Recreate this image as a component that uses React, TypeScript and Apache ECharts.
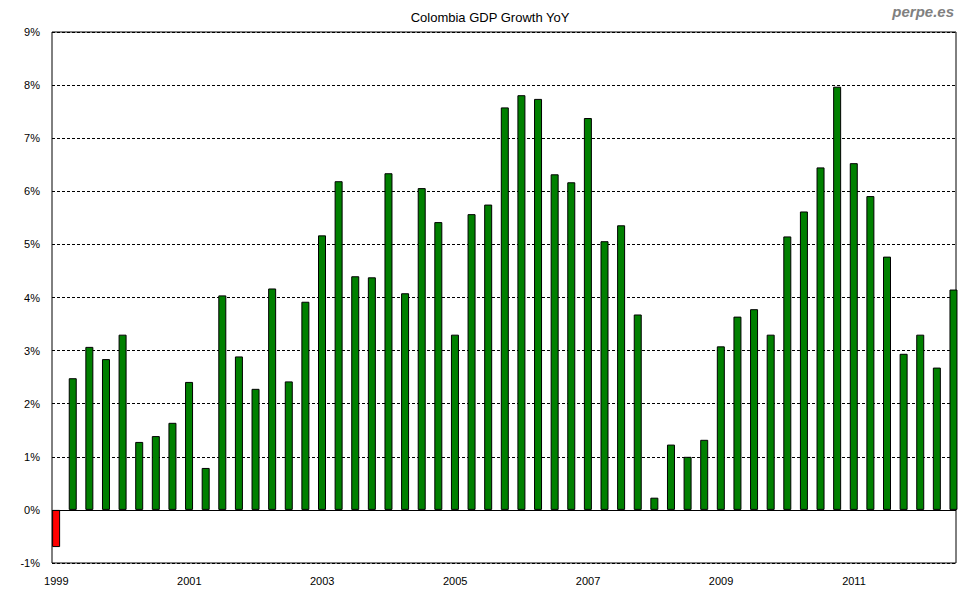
import React, { useEffect, useRef } from "react";
import * as echarts from "echarts";

const quarters = [
  "1998Q4",
  "1999Q1", "1999Q2", "1999Q3", "1999Q4",
  "2000Q1", "2000Q2", "2000Q3", "2000Q4",
  "2001Q1", "2001Q2", "2001Q3", "2001Q4",
  "2002Q1", "2002Q2", "2002Q3", "2002Q4",
  "2003Q1", "2003Q2", "2003Q3", "2003Q4",
  "2004Q1", "2004Q2", "2004Q3", "2004Q4",
  "2005Q1", "2005Q2", "2005Q3", "2005Q4",
  "2006Q1", "2006Q2", "2006Q3", "2006Q4",
  "2007Q1", "2007Q2", "2007Q3", "2007Q4",
  "2008Q1", "2008Q2", "2008Q3", "2008Q4",
  "2009Q1", "2009Q2", "2009Q3", "2009Q4",
  "2010Q1", "2010Q2", "2010Q3", "2010Q4",
  "2011Q1", "2011Q2", "2011Q3", "2011Q4",
  "2012Q1", "2012Q2",
];

const growth = [
  -0.7,
  2.48, 3.07, 2.84, 3.3,
  1.28, 1.39, 1.64, 2.41,
  0.79, 4.04, 2.89, 2.28,
  4.17, 2.42, 3.92, 5.17,
  6.19, 4.4, 4.38, 6.34,
  4.08, 6.06, 5.42, 3.3,
  5.57, 5.75, 7.58, 7.81,
  7.74, 6.32, 6.17, 7.38,
  5.06, 5.36, 3.68, 0.23,
  1.23, 1.0, 1.32, 3.08,
  3.64, 3.78, 3.3, 5.15,
  5.62, 6.45, 7.97, 6.53,
  5.91, 4.77, 2.94, 3.3,
  2.68, 4.15,
];

const yearLabels = [1999, 2001, 2003, 2005, 2007, 2009, 2011];

const FONT = "'Liberation Sans', Arial, sans-serif";

function quarterToYear(q: string): number {
  const y = parseInt(q.slice(0, 4), 10);
  const n = parseInt(q.slice(5), 10);
  return y + n / 4 - 0.003;
}

export default function App() {
  const ref = useRef<HTMLDivElement>(null);

  useEffect(() => {
    if (!ref.current) return;
    const chart = echarts.init(ref.current, undefined, { renderer: "svg" });
    const data = quarters.map((q, i) => [quarterToYear(q), growth[i]]);
    chart.setOption({
      animation: false,
      backgroundColor: "#ffffff",
      title: {
        text: "Colombia GDP Growth YoY",
        left: "center",
        top: 6,
        textStyle: { fontSize: 13, fontWeight: "normal", color: "#000", fontFamily: FONT },
      },
      graphic: [
        {
          type: "text",
          right: 26,
          top: 4,
          style: {
            text: "perpe.es",
            font: "italic bold 15px " + FONT,
            fill: "#808080",
          },
        },
      ],
      grid: {
        left: 52,
        right: 24,
        top: 32,
        bottom: 37,
        show: true,
        borderColor: "#000",
        borderWidth: 1,
        backgroundColor: "transparent",
      },
      xAxis: {
        type: "value",
        min: 1998.935,
        max: 2012.535,
        axisLine: { show: false },
        axisTick: { show: false },
        splitLine: { show: false },
        axisLabel: {
          customValues: yearLabels,
          formatter: (v: number) => String(Math.round(v)),
          fontSize: 11,
          color: "#000",
          fontFamily: FONT,
          margin: 12,
        },
      },
      yAxis: {
        type: "value",
        min: -1,
        max: 9,
        interval: 1,
        axisLine: { show: false },
        axisTick: { show: false },
        splitLine: { show: true, lineStyle: { color: "#000", type: [3, 2], width: 1 } },
        axisLabel: {
          formatter: "{value}%",
          fontSize: 11,
          color: "#000",
          fontFamily: FONT,
          margin: 12,
        },
      },
      series: [
        {
          type: "bar",
          data,
          barWidth: 8,
          clip: false,
          itemStyle: {
            color: (p: any) => (p.value[1] < 0 ? "#ff0000" : "#008000"),
            borderColor: "#000",
            borderWidth: 1,
          },
          markLine: {
            silent: true,
            symbol: "none",
            label: { show: false },
            lineStyle: { color: "#000", type: "solid", width: 1 },
            data: [{ yAxis: 0 }],
          },
        },
      ],
    });
    return () => chart.dispose();
  }, []);

  return (
    <div
      ref={ref}
      style={{ position: "fixed", left: 0, top: 0, width: 980, height: 600, background: "#fff" }}
    />
  );
}
